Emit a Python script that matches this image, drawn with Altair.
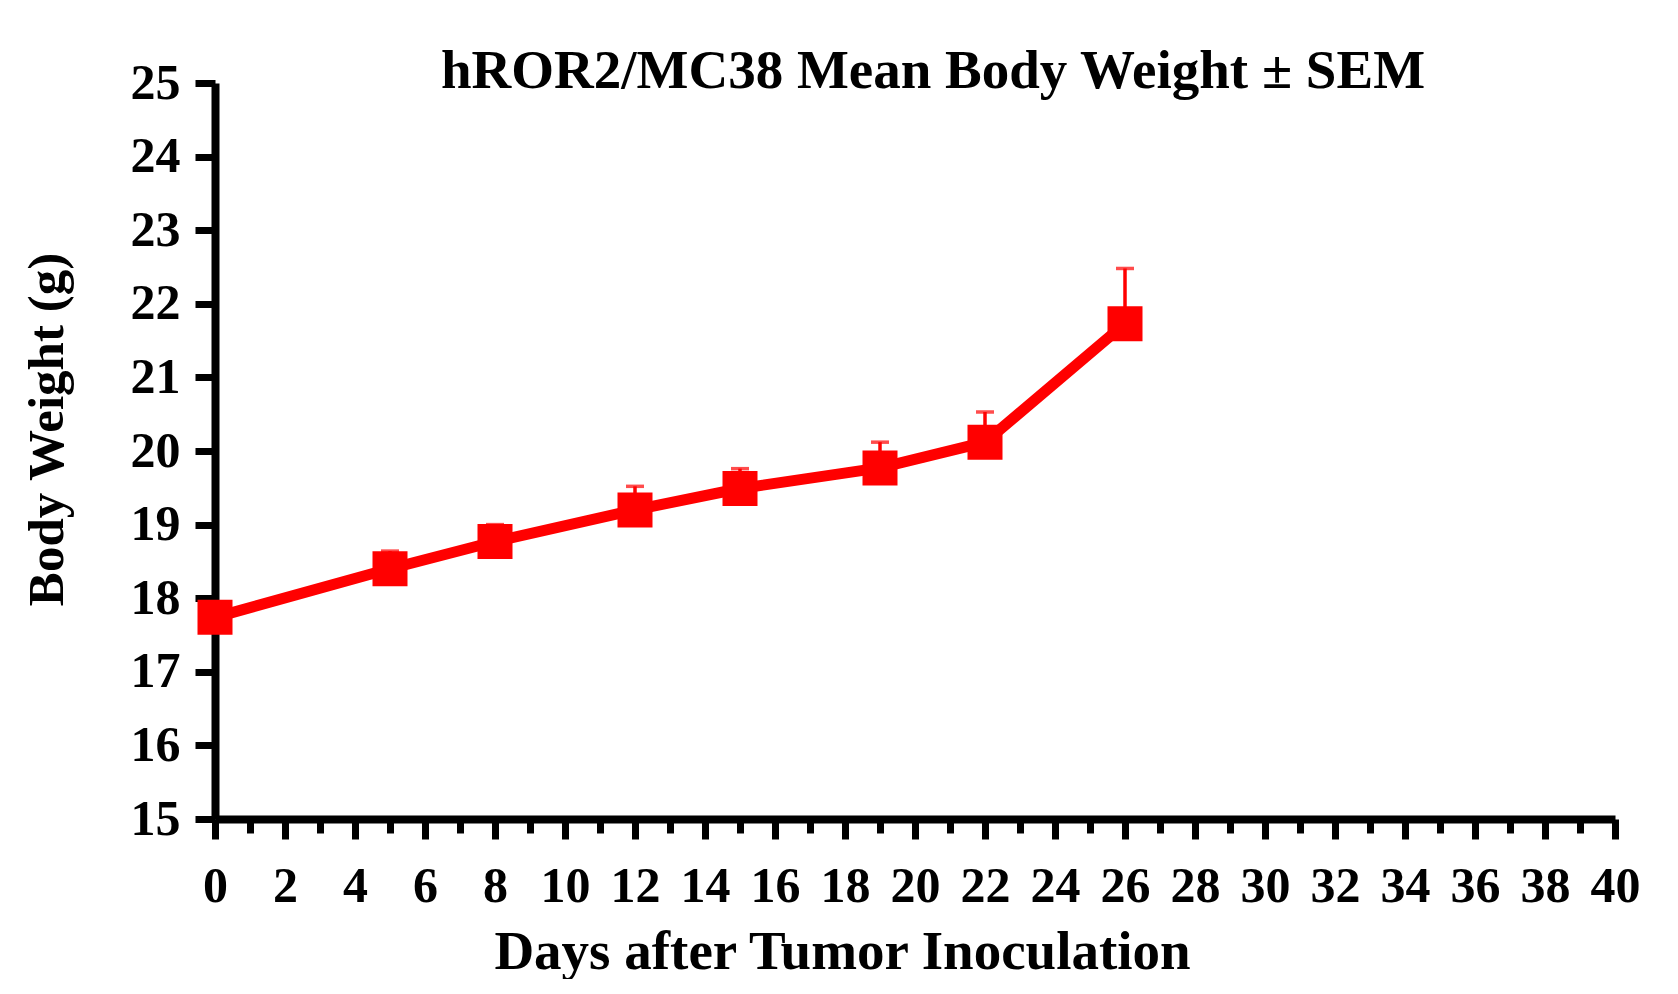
import altair as alt
import pandas as pd

days = [0, 5, 8, 12, 15, 19, 22, 26]
mean_weight = [17.74, 18.40, 18.77, 19.20, 19.49, 19.77, 20.12, 21.73]
sem = [0.18, 0.24, 0.23, 0.32, 0.27, 0.35, 0.41, 0.75]

major_x_ticks = list(range(0, 41, 2))
minor_x_ticks = list(range(1, 40, 2))
y_ticks = list(range(15, 26))

df = pd.DataFrame({"day": days, "mean": mean_weight, "sem": sem})
df["upper"] = df["mean"] + df["sem"]

FONT = "Liberation Serif"
RED = "#FF0000"

x_scale = alt.Scale(domain=[0, 40], nice=False, zero=False)
y_scale = alt.Scale(domain=[15, 25], nice=False, zero=False)

x_axis = alt.Axis(
    orient="bottom",
    values=major_x_ticks,
    format="d",
    labelOverlap=False,
    labelFlush=False,
    labelFont=FONT, labelFontWeight="bold", labelFontSize=50, labelColor="black",
    labelPadding=22,
    tickSize=20, tickWidth=7, tickColor="black",
    domainWidth=8, domainColor="black",
    grid=False,
    title="Days after Tumor Inoculation",
    titleFont=FONT, titleFontWeight="bold", titleFontSize=55, titleColor="black",
    titleX=627, titleY=149, titleAlign="center", titleBaseline="alphabetic",
)

x_minor_axis = alt.Axis(
    orient="bottom",
    values=minor_x_ticks,
    labels=False,
    domain=False,
    tickSize=14, tickWidth=7, tickColor="black",
    grid=False,
    title=None,
)

y_axis = alt.Axis(
    values=y_ticks,
    format="d",
    labelFont=FONT, labelFontWeight="bold", labelFontSize=50, labelColor="black",
    labelPadding=15,
    tickSize=20, tickWidth=7, tickColor="black",
    domainWidth=8, domainColor="black",
    grid=False,
    title="Body Weight (g)",
    titleFont=FONT, titleFontWeight="bold", titleFontSize=51, titleColor="black",
    titleX=-153, titleY=346, titleAlign="center", titleBaseline="alphabetic",
    titleAngle=270,
)

base = alt.Chart(df)

line = base.mark_line(color=RED, strokeWidth=11).encode(
    x=alt.X("day:Q", scale=x_scale, axis=x_axis),
    y=alt.Y("mean:Q", scale=y_scale, axis=y_axis),
)

err = base.mark_rule(color=RED, strokeWidth=3.5).encode(
    x=alt.X("day:Q", scale=x_scale, axis=x_minor_axis),
    y=alt.Y("mean:Q", scale=y_scale),
    y2="upper:Q",
)

cap = base.mark_tick(color=RED, orient="horizontal", size=18, thickness=3.5).encode(
    x=alt.X("day:Q", scale=x_scale, axis=None),
    y=alt.Y("upper:Q", scale=y_scale),
)

pts = base.mark_square(color=RED, opacity=1, size=1225).encode(
    x=alt.X("day:Q", scale=x_scale, axis=None),
    y=alt.Y("mean:Q", scale=y_scale),
)

chart = alt.layer(line, err, cap, pts).resolve_axis(x="independent").properties(
    width=1400,
    height=736,
    background="white",
    autosize=alt.AutoSizeParams(type="none"),
    padding={"left": 207, "top": 75, "right": 55, "bottom": 160},
    title=alt.TitleParams(
        text="hROR2/MC38 Mean Body Weight ± SEM",
        font=FONT, fontWeight="bold", fontSize=55, color="black",
        anchor="middle", frame="group", dx=18, dy=85, baseline="alphabetic", offset=0,
    ),
).configure_view(strokeWidth=0, stroke="transparent")

chart.save("out.html", embed_options={"renderer": "svg", "actions": False})
